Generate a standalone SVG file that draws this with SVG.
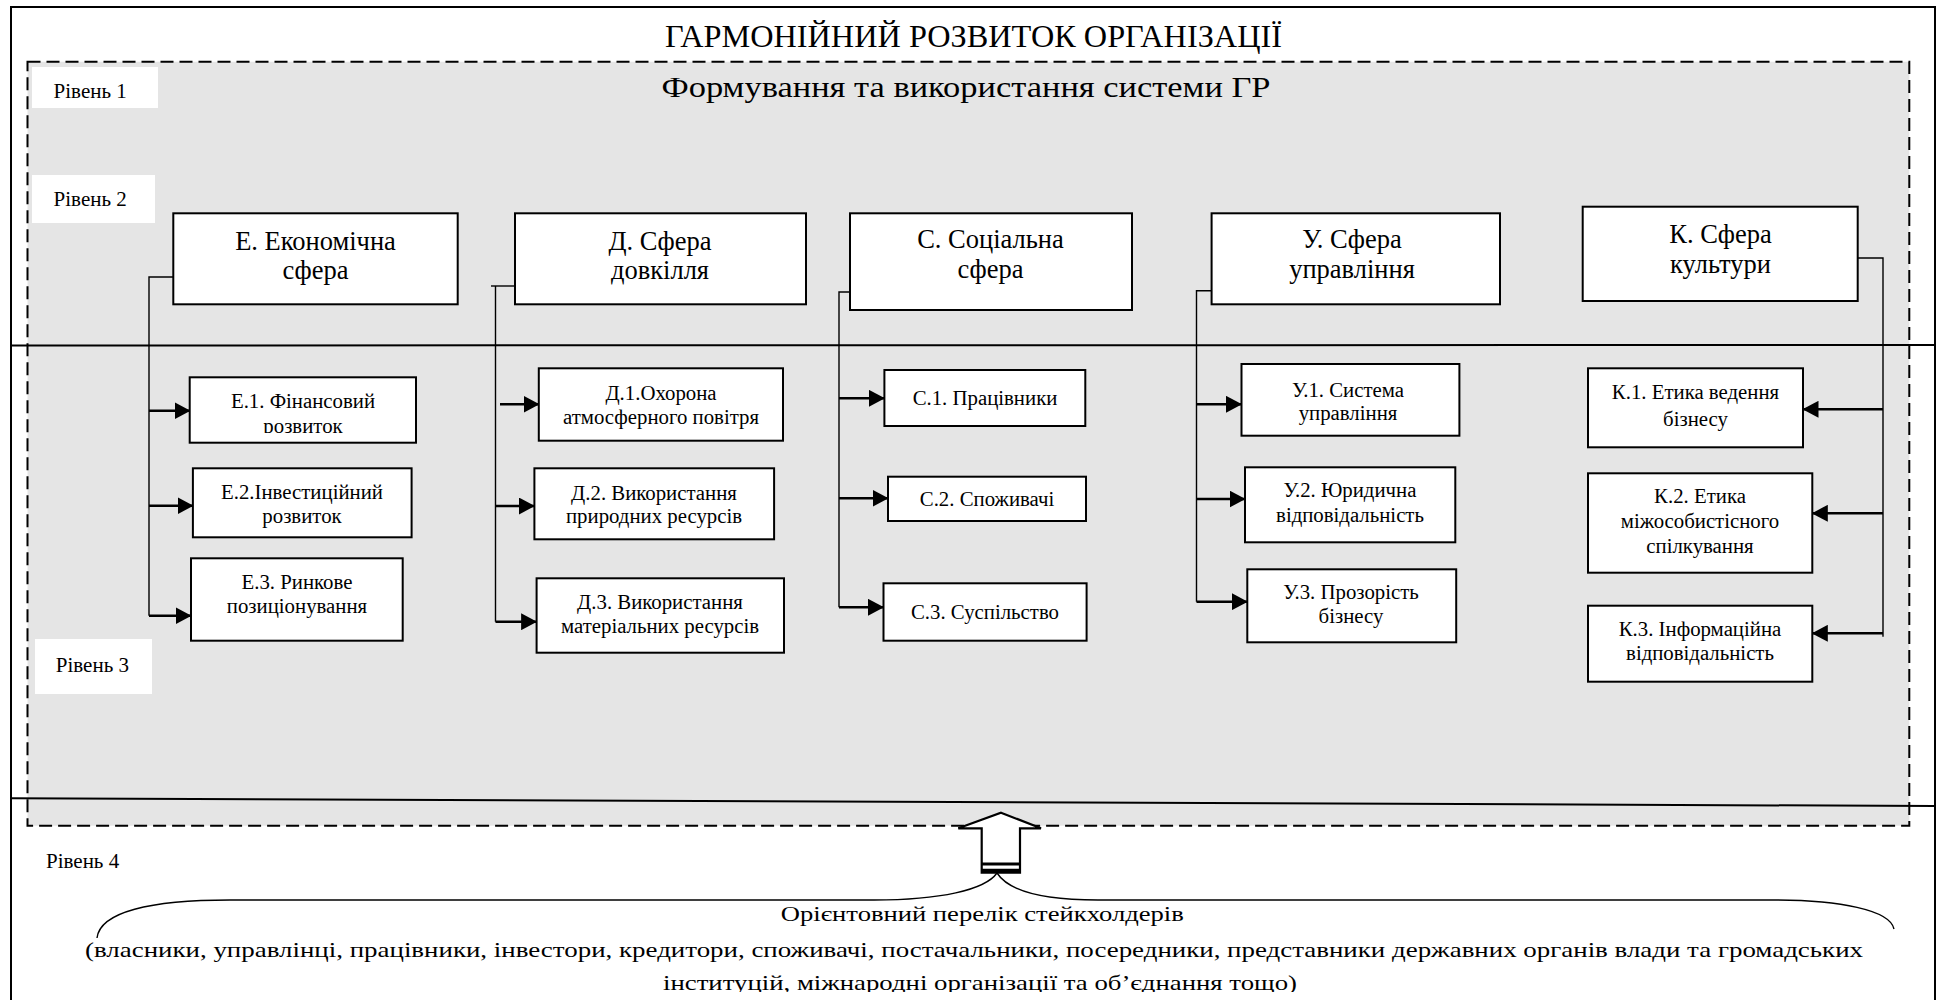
<svg xmlns="http://www.w3.org/2000/svg" width="1936" height="1000" viewBox="0 0 1936 1000">
  <style>
    text { font-family: 'Liberation Serif', 'DejaVu Serif', serif; fill: #000; }
    .t { text-anchor: middle; }
    .lvl { font-size: 21px; }
    .h2 { font-size: 26.5px; }
    .h3 { font-size: 20.8px; }
    .box { fill: #fff; stroke: #000; stroke-width: 2; }
    .tag { fill: #fff; stroke: none; }
    .conn { fill: none; stroke: #000; stroke-width: 1.4; }
    .arr { fill: none; stroke: #000; stroke-width: 2.6; marker-end: url(#head); }
    .rule { fill: none; stroke: #000; stroke-width: 2; }
  </style>
  <defs>
    <marker id="head" markerUnits="userSpaceOnUse" markerWidth="16" markerHeight="17" refX="15.5" refY="8.5" orient="auto">
      <path d="M0,0 L16,8.5 L0,17 Z" fill="#000"/>
    </marker>
    <clipPath id="clipE1"><rect x="190" y="378" width="226" height="55"/></clipPath>
    <clipPath id="clipBottom"><rect x="0" y="880" width="1936" height="112"/></clipPath>
  </defs>

  <!-- page frame -->
  <rect x="11" y="7" width="1924" height="1010" fill="#fff" stroke="#000" stroke-width="2"/>

  <!-- shaded system area (dashed) -->
  <rect id="system-area" x="27.5" y="61.7" width="1881.8" height="764" fill="#e5e5e5" stroke="#000" stroke-width="2" stroke-dasharray="13 6"/>

  <!-- level separators -->
  <line class="rule" x1="11" y1="345.5" x2="1935" y2="345"/>
  <line class="rule" x1="11" y1="798.3" x2="1935" y2="806"/>

  <!-- headings -->
  <text class="t" x="973.5" y="46.7" font-size="32" textLength="617" lengthAdjust="spacingAndGlyphs">ГАРМОНІЙНИЙ РОЗВИТОК ОРГАНІЗАЦІЇ</text>
  <text class="t" x="966" y="96.7" font-size="29" textLength="609" lengthAdjust="spacingAndGlyphs">Формування та використання системи ГР</text>

  <!-- level tags -->
  <g id="level-1"><rect class="tag" x="32" y="67" width="126" height="41"/><text class="lvl" x="53.6" y="98">Рівень 1</text></g>
  <g id="level-2"><rect class="tag" x="32" y="175" width="123" height="48"/><text class="lvl" x="53.6" y="205.7">Рівень 2</text></g>
  <g id="level-3"><rect class="tag" x="35" y="639" width="117" height="55"/><text class="lvl" x="55.8" y="671.7">Рівень 3</text></g>
  <g id="level-4"><text class="lvl" x="46" y="868">Рівень 4</text></g>

  <!-- connectors -->
  <g id="connectors">
    <!-- economic -->
    <polyline class="conn" points="173,277 149,277 149,615.7"/>
    <line class="arr" x1="149" y1="410.7" x2="190" y2="410.7"/>
    <line class="arr" x1="149" y1="505.7" x2="193" y2="505.7"/>
    <line class="arr" x1="149" y1="615.7" x2="191" y2="615.7"/>
    <!-- environment -->
    <line class="conn" x1="491" y1="286" x2="515" y2="286"/>
    <line class="conn" x1="495.5" y1="286" x2="495.5" y2="621.7"/>
    <line class="arr" x1="500" y1="404.3" x2="539" y2="404.3"/>
    <line class="arr" x1="495.5" y1="506" x2="534.4" y2="506"/>
    <line class="arr" x1="495.5" y1="621.7" x2="536.6" y2="621.7"/>
    <!-- social -->
    <polyline class="conn" points="850,292 839,292 839,607.3"/>
    <line class="arr" x1="839" y1="398.3" x2="884.4" y2="398.3"/>
    <line class="arr" x1="839" y1="498.3" x2="888" y2="498.3"/>
    <line class="arr" x1="839" y1="607.3" x2="883.5" y2="607.3"/>
    <!-- management -->
    <polyline class="conn" points="1211.6,290.7 1196.5,290.7 1196.5,601.7"/>
    <line class="arr" x1="1196.5" y1="404.3" x2="1241.5" y2="404.3"/>
    <line class="arr" x1="1196.5" y1="499" x2="1245" y2="499"/>
    <line class="arr" x1="1196.5" y1="601.7" x2="1247.3" y2="601.7"/>
    <!-- culture -->
    <polyline class="conn" points="1857.7,258 1883,258 1883,636.7"/>
    <line class="arr" x1="1883" y1="409.3" x2="1803" y2="409.3"/>
    <line class="arr" x1="1883" y1="513.3" x2="1812.3" y2="513.3"/>
    <line class="arr" x1="1883" y1="633.3" x2="1812.3" y2="633.3"/>
  </g>

  <!-- level 2: spheres -->
  <g id="sphere-e">
    <rect class="box" x="173.3" y="213.3" width="284.4" height="91"/>
    <text class="t h2"><tspan x="315.5" y="250">Е. Економічна</tspan><tspan x="315.5" y="278.5">сфера</tspan></text>
  </g>
  <g id="sphere-d">
    <rect class="box" x="515" y="213.3" width="291" height="91"/>
    <text class="t h2"><tspan x="660" y="250">Д. Сфера</tspan><tspan x="660" y="278.5">довкілля</tspan></text>
  </g>
  <g id="sphere-c">
    <rect class="box" x="850" y="213.3" width="282" height="96.7"/>
    <text class="t h2"><tspan x="990.5" y="248.3">С. Соціальна</tspan><tspan x="990.5" y="278.3">сфера</tspan></text>
  </g>
  <g id="sphere-u">
    <rect class="box" x="1211.6" y="213.3" width="288.4" height="91"/>
    <text class="t h2"><tspan x="1352" y="248.3">У. Сфера</tspan><tspan x="1352" y="278.3">управління</tspan></text>
  </g>
  <g id="sphere-k">
    <rect class="box" x="1582.7" y="206.7" width="275" height="94.3"/>
    <text class="t h2"><tspan x="1720.5" y="243">К. Сфера</tspan><tspan x="1720.5" y="273">культури</tspan></text>
  </g>

  <!-- level 3: components -->
  <g id="e1">
    <rect class="box" x="189.7" y="377.3" width="226.3" height="65.4"/>
    <text class="t h3" clip-path="url(#clipE1)"><tspan x="303" y="408.3">Е.1. Фінансовий</tspan><tspan x="303" y="432.5">розвиток</tspan></text>
  </g>
  <g id="e2">
    <rect class="box" x="192.9" y="468.3" width="218.7" height="69"/>
    <text class="t h3"><tspan x="302" y="499.3">Е.2.Інвестиційний</tspan><tspan x="302" y="523">розвиток</tspan></text>
  </g>
  <g id="e3">
    <rect class="box" x="191" y="558.3" width="211.7" height="82.4"/>
    <text class="t h3"><tspan x="297" y="589.3">Е.3. Ринкове</tspan><tspan x="297" y="613.3">позиціонування</tspan></text>
  </g>

  <g id="d1">
    <rect class="box" x="538.8" y="368.3" width="244.2" height="72.4"/>
    <text class="t h3"><tspan x="661" y="399.5">Д.1.Охорона</tspan><tspan x="661" y="423.5">атмосферного повітря</tspan></text>
  </g>
  <g id="d2">
    <rect class="box" x="534.4" y="468.3" width="239.7" height="71"/>
    <text class="t h3"><tspan x="654" y="500">Д.2. Використання</tspan><tspan x="654" y="523.3">природних ресурсів</tspan></text>
  </g>
  <g id="d3">
    <rect class="box" x="536.6" y="578.3" width="247.4" height="74.4"/>
    <text class="t h3"><tspan x="660" y="609.3">Д.3. Використання</tspan><tspan x="660" y="633.3">матеріальних ресурсів</tspan></text>
  </g>

  <g id="c1">
    <rect class="box" x="884.4" y="370" width="200.9" height="56"/>
    <text class="t h3" x="985" y="405">С.1. Працівники</text>
  </g>
  <g id="c2">
    <rect class="box" x="888" y="476.7" width="198" height="44.3"/>
    <text class="t h3" x="987" y="506">С.2. Споживачі</text>
  </g>
  <g id="c3">
    <rect class="box" x="883.5" y="583.3" width="203.1" height="57.4"/>
    <text class="t h3" x="985" y="619">С.3. Суспільство</text>
  </g>

  <g id="u1">
    <rect class="box" x="1241.5" y="364" width="217.9" height="71.7"/>
    <text class="t h3"><tspan x="1348" y="397">У.1. Система</tspan><tspan x="1348" y="420">управління</tspan></text>
  </g>
  <g id="u2">
    <rect class="box" x="1245" y="467.3" width="210.3" height="75"/>
    <text class="t h3"><tspan x="1350" y="497">У.2. Юридична</tspan><tspan x="1350" y="521.7">відповідальність</tspan></text>
  </g>
  <g id="u3">
    <rect class="box" x="1247.3" y="569.3" width="208.9" height="73"/>
    <text class="t h3"><tspan x="1351" y="599.3">У.3. Прозорість</tspan><tspan x="1351" y="622.7">бізнесу</tspan></text>
  </g>

  <g id="k1">
    <rect class="box" x="1588" y="368.3" width="215" height="79"/>
    <text class="t h3"><tspan x="1695.5" y="399.3">К.1. Етика ведення</tspan><tspan x="1695.5" y="426">бізнесу</tspan></text>
  </g>
  <g id="k2">
    <rect class="box" x="1588" y="473.3" width="224.3" height="99.4"/>
    <text class="t h3"><tspan x="1700" y="503.3">К.2. Етика</tspan><tspan x="1700" y="528.3">міжособистісного</tspan><tspan x="1700" y="553.3">спілкування</tspan></text>
  </g>
  <g id="k3">
    <rect class="box" x="1588" y="605.7" width="224.3" height="76"/>
    <text class="t h3"><tspan x="1700" y="636">К.3. Інформаційна</tspan><tspan x="1700" y="660">відповідальність</tspan></text>
  </g>

  <!-- level 4: stakeholders feeding the system -->
  <g id="stakeholders">
    <path class="conn" stroke-width="2" d="M97,938 C100,912 150,900 230,900 L874,900 C940,900 985,890 997,873 C1008,890 1040,900 1098,900 L1772,900 C1840,900 1890,910 1894,929"/>
    <g clip-path="url(#clipBottom)">
      <text class="t" font-size="22" x="982.3" y="920.7" textLength="403" lengthAdjust="spacingAndGlyphs">Орієнтовний перелік стейкхолдерів</text>
      <text class="t" font-size="22" x="974" y="956.7" textLength="1778" lengthAdjust="spacingAndGlyphs">(власники, управлінці, працівники, інвестори, кредитори, споживачі, постачальники, посередники, представники державних органів влади та громадських</text>
      <text class="t" font-size="22" x="980" y="990" textLength="634" lengthAdjust="spacingAndGlyphs">інституцій, міжнародні організації та об’єднання тощо)</text>
    </g>
  </g>

  <!-- upward block arrow -->
  <g id="up-arrow">
    <polygon points="1001,812.7 1041,828.3 1020,828.3 1020,872.7 981.7,872.7 981.7,828.3 958.3,828.3" fill="#fff" stroke="#000" stroke-width="2.2" stroke-linejoin="miter"/>
    <line x1="981.7" y1="864" x2="1020" y2="864" stroke="#000" stroke-width="3"/>
    <line x1="981.7" y1="870.8" x2="1020" y2="870.8" stroke="#000" stroke-width="4"/>
  </g>
</svg>
